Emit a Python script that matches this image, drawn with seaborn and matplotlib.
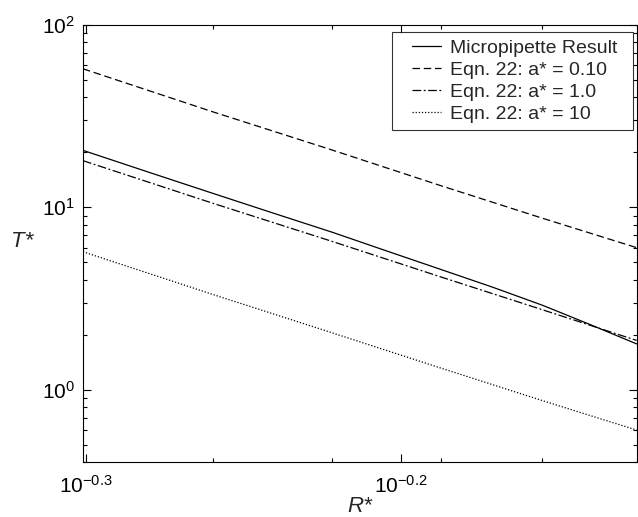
import numpy as np
import pandas as pd
import matplotlib
matplotlib.use('Agg')
import matplotlib.pyplot as plt
import matplotlib.ticker as mticker
from matplotlib.lines import Line2D
from matplotlib.legend_handler import HandlerLine2D
import seaborn as sns

# values (R*, T*)
r_fine = [0.50, 0.525, 0.55, 0.575, 0.60, 0.625, 0.65, 0.675, 0.70, 0.725, 0.75]
t_micropipette = [20.5, 15.5, 11.9, 9.26, 7.3, 5.73, 4.55, 3.64, 2.9, 2.27, 1.78]

r_star = [0.50, 0.55, 0.60, 0.65, 0.70, 0.75]
t_a010 = [57.4, 33.3, 20.6, 13.1, 8.7, 6.0]
t_a10 = [18.0, 10.5, 6.5, 4.14, 2.74, 1.86]
t_a100 = [5.7, 3.32, 2.05, 1.31, 0.87, 0.60]

labels = ['Micropipette Result', 'Eqn. 22: a* = 0.10',
          'Eqn. 22: a* = 1.0', 'Eqn. 22: a* = 10']
xs = [r_fine, r_star, r_star, r_star]
series = [t_micropipette, t_a010, t_a10, t_a100]
styles = ['-', (0, (6, 3)), (0, (7, 2, 1.5, 2)), (0, (1, 1.5))]

sns.set_style('ticks')
plt.rcParams['font.family'] = ['Liberation Sans', 'DejaVu Sans']
plt.rcParams['mathtext.fontset'] = 'custom'
plt.rcParams['mathtext.rm'] = 'Liberation Sans'
plt.rcParams['mathtext.it'] = 'Liberation Sans:italic'

fig = plt.figure(figsize=(6.38, 5.17), dpi=100)
ax = fig.add_axes([0.130, 0.106, 0.868, 0.846])

for lab, xv, vals, ls in zip(labels, xs, series, styles):
    df = pd.DataFrame({'R': xv, 'T': vals})
    sns.lineplot(data=df, x='R', y='T', ax=ax, color='black', lw=0.9,
                 linestyle=ls, label=lab)

ax.set_xscale('log')
ax.set_yscale('log')
ax.set_xlim(0.5, 0.75)
ax.set_ylim(0.4, 100)

ax.xaxis.set_major_locator(mticker.FixedLocator([10**-0.3, 10**-0.2]))
ax.xaxis.set_major_formatter(mticker.FixedFormatter(['$10^{-0.3}$', '$10^{-0.2}$']))
ax.xaxis.set_minor_locator(mticker.FixedLocator([0.55, 0.6, 0.65, 0.7, 0.75]))
ax.xaxis.set_minor_formatter(mticker.NullFormatter())
ax.yaxis.set_major_locator(mticker.FixedLocator([1, 10, 100]))
ax.yaxis.set_major_formatter(mticker.FixedFormatter(['$10^{0}$', '$10^{1}$', '$10^{2}$']))
ax.yaxis.set_minor_locator(mticker.LogLocator(base=10, subs=np.arange(2, 10), numticks=20))
ax.yaxis.set_minor_formatter(mticker.NullFormatter())

ax.tick_params(which='both', direction='in', top=True, right=True, width=0.8, colors='black')
ax.tick_params(which='major', length=6, labelsize=15)
ax.tick_params(axis='x', which='major', pad=9)
ax.tick_params(axis='y', which='major', pad=6)
ax.tick_params(which='minor', length=3)
for s in ax.spines.values():
    s.set_linewidth(0.8)
    s.set_color('black')

ax.set_xlabel('R*', fontsize=16, fontstyle='italic')
ax.xaxis.set_label_coords(0.5, -0.078)
ax.set_ylabel('T*', fontsize=16, fontstyle='italic', rotation=0)
ax.yaxis.set_label_coords(-0.11, 0.48)

leg = ax.legend(loc='upper left', bbox_to_anchor=(0.558, 0.762, 0.435, 0.222),
                mode='expand', borderaxespad=0,
                fontsize=14, frameon=True, fancybox=False,
                handlelength=2.12, borderpad=0.38, labelspacing=0.23,
                handletextpad=0.5,
                handler_map={Line2D: HandlerLine2D(xpad=0.65)})
leg.get_frame().set_edgecolor('black')
leg.get_frame().set_linewidth(0.8)

fig.savefig('out.png', dpi=100)
